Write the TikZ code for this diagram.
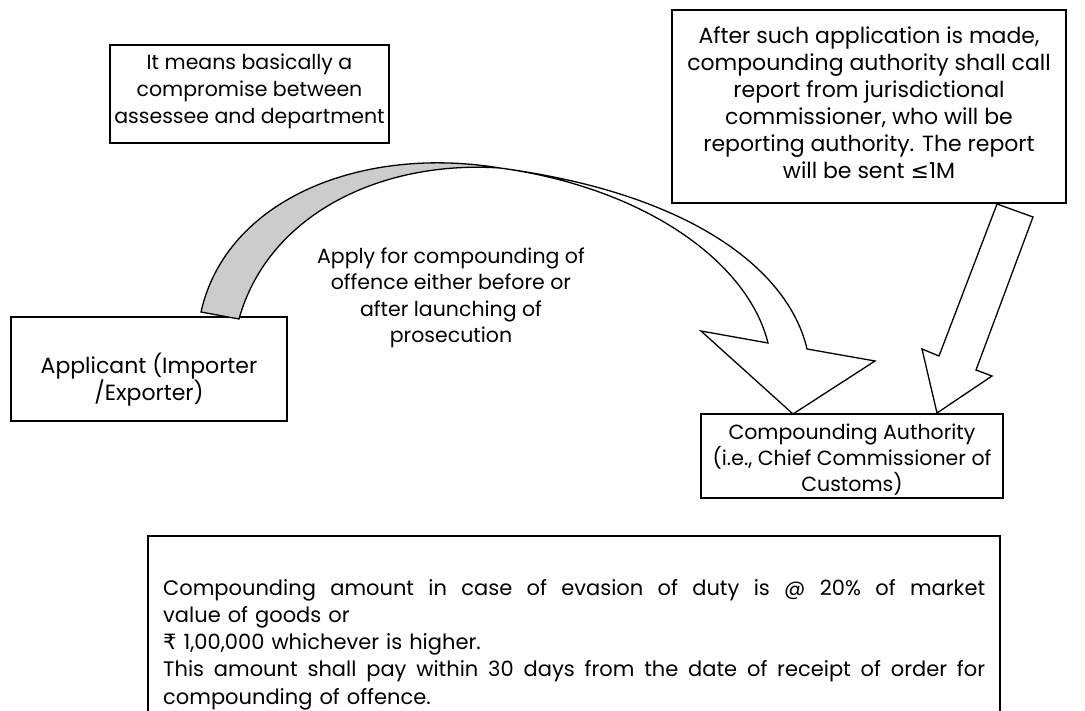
\documentclass[tikz,border=0pt]{standalone}
\usepackage{fontspec}
\setmainfont{Poppins}
\newfontfamily\symfont{DejaVu Sans}
\newcommand{\justline}[1]{\leavevmode\hbox to 822pt{\spaceskip=5pt plus 1fil\relax #1}}
\begin{document}
\begin{tikzpicture}[x=1pt,y=-1pt,
  box/.style={draw, line width=1.3pt, inner sep=0pt},
  txt/.style={font=\fontsize{22}{27}\selectfont, align=center, inner sep=0pt},
  arr/.style={draw, line width=1.3pt, line join=miter}]
\useasboundingbox (0,0) rectangle (1085,711);
% boxes
\node[box, minimum width=279pt, minimum height=98pt] (b1) at (249.5,94) {};
\node[txt, font=\fontsize{20.5}{27}\selectfont] (b1t) at (249.5,91) {It means basically a\\compromise between\\assessee and department};
\node[box, minimum width=394pt, minimum height=193pt] (b2) at (869,106.5) {};
\node[txt] (b2t) at (869,103) {After such application is made,\\compounding authority shall call\\report from jurisdictional\\commissioner, who will be\\reporting authority. The report\\will be sent {\symfont ≤}1M};
\node[box, minimum width=276pt, minimum height=104pt] (app) at (149,369) {};
\node[txt] (appt) at (149,380) {Applicant (Importer\\/Exporter)};
\node[box, minimum width=302pt, minimum height=84pt] (ca) at (852,456) {};
\node[txt, font=\fontsize{20.5}{26}\selectfont] (cat) at (852,460) {Compounding Authority\\(i.e., Chief Commissioner of\\Customs)};
% bottom box (open at the bottom)
\coordinate (bl) at (148,711);
\coordinate (br) at (1000,711);
\draw[line width=1.3pt] (bl) -- (148,536) -- (1000,536) -- (br);
\node[font=\fontsize{21}{27.2}\selectfont, inner sep=0pt, align=left, anchor=north west, text width=822pt] (bt) at (163,579) {%
\justline{Compounding amount in case of evasion of duty is @ 20\% of market}\\
value of goods or\\
{\symfont ₹} 1,00,000 whichever is higher.\\
\justline{This amount shall pay within 30 days from the date of receipt of order for}\\
compounding of offence.};
% curved arrow: gray back part
\fill[gray!40] (201,312) .. controls (226,200) and (360,145) .. (500,168)
  .. controls (380,160) and (268,215) .. (239,319) -- cycle;
\draw[arr] (201,312) .. controls (226,200) and (360,145) .. (500,168)
  .. controls (380,160) and (268,215) .. (239,319) -- cycle;
% curved arrow: front part with head
\draw[arr, fill=white] (500,168) .. controls (700,195) and (790,275) .. (807,349)
  -- (875,361) -- (793,414) -- (701,331) -- (768,343)
  .. controls (748,262) and (645,188) .. (500,168) -- cycle;
\node[txt, font=\fontsize{20.5}{26.5}\selectfont] (lab) at (451,298) {Apply for compounding of\\offence either before or\\after launching of\\prosecution};
% straight arrow
\draw[arr, fill=white] (997,204) -- (1033,217) -- (976,370) -- (992,376) -- (937,413) -- (922,349) -- (939,356) -- cycle;
\end{tikzpicture}
\end{document}
